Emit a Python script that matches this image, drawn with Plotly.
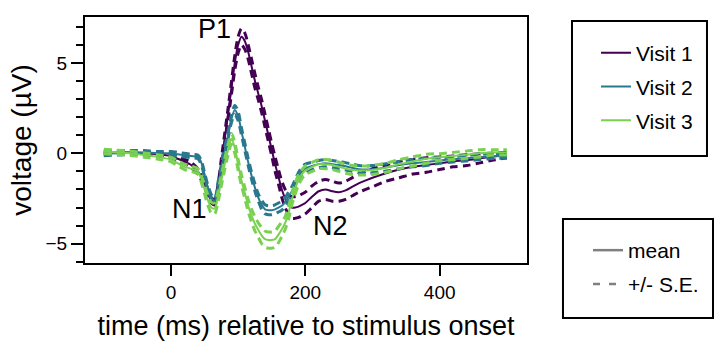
import plotly.graph_objects as go

# ---------------- data ----------------
times = [-100, -80, -60, -40, -20, 0, 10, 20, 30, 40,
         45, 50, 55, 60, 65, 70, 75, 80, 85, 90, 95, 100, 105, 110, 115, 120,
         125, 130, 135, 140, 145, 150, 155, 160, 165, 170, 175, 180, 185, 190,
         195, 200, 210, 220, 230, 240, 250, 260, 270, 280, 290, 300,
         320, 340, 360, 380, 400, 420, 440, 460, 480, 500]

visit1_mean = [0.0, 0.05, 0.05, 0.0, -0.05, -0.15, -0.3, -0.45, -0.65, -1.0,
               -1.3, -1.75, -2.2, -2.6, -2.7, -2.0, -0.6, 0.8, 2.2, 3.6, 5.0, 6.0, 6.45, 6.2, 5.6, 4.8,
               4.0, 3.3, 2.6, 1.8, 1.0, 0.2, -0.6, -1.3, -2.0, -2.5, -2.85, -3.0, -3.0, -2.95,
               -2.85, -2.75, -2.4, -2.1, -2.0, -2.1, -2.15, -2.05, -1.85, -1.65, -1.5, -1.35,
               -1.1, -0.9, -0.75, -0.65, -0.55, -0.45, -0.38, -0.28, -0.18, -0.1]
visit1_se = [0.1, 0.1, 0.1, 0.1, 0.1, 0.1, 0.12, 0.12, 0.15, 0.15,
             0.15, 0.15, 0.15, 0.15, 0.15, 0.25, 0.3, 0.3, 0.3, 0.35, 0.4, 0.45, 0.45, 0.45, 0.4, 0.4,
             0.4, 0.35, 0.35, 0.35, 0.35, 0.35, 0.4, 0.4, 0.45, 0.5, 0.55, 0.6, 0.6, 0.6,
             0.6, 0.6, 0.6, 0.55, 0.55, 0.55, 0.5, 0.5, 0.5, 0.5, 0.5, 0.5,
             0.45, 0.45, 0.4, 0.4, 0.35, 0.3, 0.3, 0.25, 0.2, 0.15]

visit2_mean = [-0.03, 0.0, 0.05, 0.05, 0.0, 0.0, -0.05, -0.1, -0.15, -0.2,
               -0.5, -1.2, -1.9, -2.4, -2.65, -1.8, -0.8, 0.1, 1.0, 1.9, 2.4, 2.05, 1.2, 0.35, -0.5, -1.25,
               -1.9, -2.45, -2.85, -3.1, -3.15, -3.15, -3.1, -3.0, -2.9, -2.7, -2.4, -2.1, -1.7, -1.3,
               -1.0, -0.85, -0.7, -0.6, -0.55, -0.6, -0.65, -0.72, -0.8, -0.88, -0.9, -0.88,
               -0.78, -0.65, -0.55, -0.48, -0.4, -0.33, -0.27, -0.2, -0.17, -0.15]
visit2_se = [0.1, 0.1, 0.1, 0.1, 0.1, 0.1, 0.1, 0.1, 0.1, 0.1,
             0.12, 0.12, 0.12, 0.12, 0.12, 0.2, 0.2, 0.2, 0.2, 0.2, 0.25, 0.25, 0.2, 0.2, 0.2, 0.2,
             0.2, 0.2, 0.25, 0.25, 0.25, 0.25, 0.25, 0.25, 0.25, 0.25, 0.25, 0.25, 0.25, 0.25,
             0.25, 0.25, 0.2, 0.2, 0.2, 0.2, 0.2, 0.2, 0.2, 0.2, 0.2, 0.2,
             0.2, 0.2, 0.2, 0.2, 0.15, 0.15, 0.15, 0.15, 0.12, 0.12]

visit3_mean = [0.1, 0.05, 0.0, -0.1, -0.2, -0.35, -0.55, -0.75, -0.85, -1.0,
               -1.4, -2.0, -2.6, -3.0, -3.05, -2.4, -1.5, -0.6, 0.2, 0.8, 0.3, -0.65, -1.5, -2.2, -2.9, -3.45,
               -3.9, -4.25, -4.55, -4.75, -4.8, -4.8, -4.75, -4.5, -4.2, -3.85, -3.3, -2.55, -1.95, -1.45,
               -1.15, -0.95, -0.75, -0.6, -0.6, -0.65, -0.75, -0.85, -0.92, -0.95, -0.95, -0.92,
               -0.8, -0.6, -0.45, -0.3, -0.22, -0.15, -0.08, 0.0, 0.05, 0.05]
visit3_se = [0.12, 0.12, 0.12, 0.12, 0.12, 0.12, 0.15, 0.15, 0.15, 0.15,
             0.2, 0.25, 0.3, 0.3, 0.3, 0.3, 0.3, 0.3, 0.3, 0.3, 0.3, 0.3, 0.3, 0.3, 0.35, 0.35,
             0.4, 0.4, 0.45, 0.45, 0.45, 0.45, 0.45, 0.45, 0.4, 0.35, 0.35, 0.3, 0.3, 0.3,
             0.25, 0.25, 0.25, 0.25, 0.25, 0.25, 0.25, 0.25, 0.25, 0.25, 0.25, 0.25,
             0.25, 0.25, 0.25, 0.25, 0.2, 0.2, 0.2, 0.2, 0.15, 0.15]

visit_names = ["Visit 1", "Visit 2", "Visit 3"]
visit_colors = ["#440154", "#2a788e", "#7ad151"]
means = [visit1_mean, visit2_mean, visit3_mean]
ses = [visit1_se, visit2_se, visit3_se]

peak_labels = ["P1", "N1", "N2"]
peak_x = [65, 27, 237]
peak_y = [6.9, -3.1, -4.05]

x_ticks = [0, 200, 400]
y_ticks = [-5, 0, 5]

FONT = "Liberation Sans, Arial, Helvetica, sans-serif"
SE_DASH = "8px,5px"

fig = go.Figure()

for name, color, m, s in zip(visit_names, visit_colors, means, ses):
    upper = [a + b for a, b in zip(m, s)]
    lower = [a - b for a, b in zip(m, s)]
    for band in (upper, lower):
        fig.add_trace(go.Scatter(
            x=times, y=band, mode="lines",
            line=dict(color=color, width=3, dash=SE_DASH, shape="spline", smoothing=0.8),
            showlegend=False, hoverinfo="skip"))
    fig.add_trace(go.Scatter(
        x=times, y=m, mode="lines", name=name,
        line=dict(color=color, width=2, shape="spline", smoothing=0.8),
        legend="legend", legendgroup=name, showlegend=True))

# style legend (mean / SE)
fig.add_trace(go.Scatter(x=[None], y=[None], mode="lines", name="mean",
                         line=dict(color="#808080", width=2.5),
                         legend="legend2", legendgroup="mean"))
fig.add_trace(go.Scatter(x=[None], y=[None], mode="lines", name="+/- S.E.",
                         line=dict(color="#808080", width=2.5, dash="7px,9px"),
                         legend="legend2", legendgroup="se"))

for lab, lx, ly in zip(peak_labels, peak_x, peak_y):
    fig.add_annotation(x=lx, y=ly, xref="x", yref="y", text=lab, showarrow=False,
                       font=dict(family=FONT, size=27, color="black"),
                       xanchor="center", yanchor="middle")

# legend boxes
fig.add_shape(type="rect", xref="paper", yref="paper",
              x0=1.1018, x1=1.4072, y0=0.4350, y1=0.9837,
              line=dict(color="black", width=2))
fig.add_shape(type="rect", xref="paper", yref="paper",
              x0=1.0814, x1=1.4208, y0=-0.2236, y1=0.1789,
              line=dict(color="black", width=2))

fig.update_layout(
    width=726, height=356,
    margin=dict(l=85, r=199, t=17, b=93),
    paper_bgcolor="white", plot_bgcolor="white",
    font=dict(family=FONT, color="black"),
    legend=dict(x=1.1561, y=0.9366, xanchor="left", yanchor="top",
                bgcolor="rgba(0,0,0,0)", borderwidth=0,
                font=dict(family=FONT, size=21, color="black"),
                traceorder="grouped", tracegroupgap=3.5),
    legend2=dict(x=1.1380, y=0.1341, xanchor="left", yanchor="top",
                 bgcolor="rgba(0,0,0,0)", borderwidth=0,
                 font=dict(family=FONT, size=21, color="black"),
                 traceorder="grouped", tracegroupgap=3.5),
    xaxis=dict(range=[-128, 530], tickvals=x_ticks, ticks="outside", ticklen=11,
               tickwidth=1.6, tickcolor="black", showgrid=False, zeroline=False,
               showline=True, linecolor="black", linewidth=2, mirror=True,
               tickfont=dict(family=FONT, size=19, color="black"),
               title=dict(text="time (ms) relative to stimulus onset",
                          font=dict(family=FONT, size=27, color="black"), standoff=14)),
    yaxis=dict(range=[-6.07, 7.54], tickvals=y_ticks, ticks="outside", ticklen=12,
               tickwidth=1.6, tickcolor="black", showgrid=False, zeroline=False,
               showline=True, linecolor="black", linewidth=2, mirror=True,
               tickfont=dict(family=FONT, size=19, color="black"),
               minor=dict(dtick=1, tick0=0, ticks="outside", ticklen=7,
                          tickwidth=1.6, tickcolor="black", showgrid=False),
               title=dict(text="voltage (µV)",
                          font=dict(family=FONT, size=28, color="black"), standoff=6)),
)

fig.write_html("out.html", config={"displayModeBar": False},
               post_script="document.body.style.margin='0';document.body.style.overflow='hidden';")
